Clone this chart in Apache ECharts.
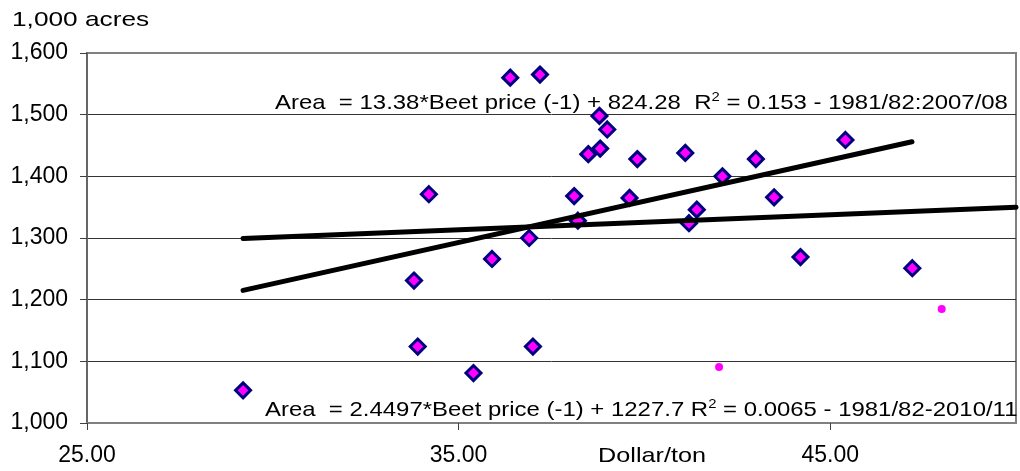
<!DOCTYPE html>
<html>
<head>
<meta charset="utf-8">
<script src="https://cdn.jsdelivr.net/npm/echarts@6/dist/echarts.min.js"></script>
<style>
html,body{margin:0;padding:0;background:#fff;}
#chart{width:1020px;height:471px;}
</style>
</head>
<body>
<div id="chart"></div>
<script>
// Beet price (-1), $/ton  vs  sugarbeet area, 1,000 acres
const priceX = [29.2, 33.8, 33.9, 34.2, 35.4, 35.9, 36.39, 36.9, 37.0, 37.19, 38.11, 38.21, 38.49, 38.81, 38.79, 39.0, 39.81, 39.6, 41.1, 41.2, 41.41, 42.1, 43.0, 43.49, 44.2, 45.41, 47.21];
const areaY  = [1053, 1231, 1124, 1371, 1081, 1266, 1560, 1300, 1124, 1565, 1368, 1328, 1436, 1445, 1498, 1476, 1428, 1365, 1438, 1324, 1346, 1400, 1428, 1366, 1269, 1459, 1251];
const recentX = [42.01, 48.0];
const recentY = [1091, 1185];
const trend1X = [29.2, 47.2];
const trend1Y = [1215, 1456];
const trend2X = [29.2, 50];
const trend2Y = [1299, 1350];
const xTicks = [25, 35, 45];
const yTicks = [1000, 1100, 1200, 1300, 1400, 1500, 1600];
const eq1 = 'Area  = 13.38*Beet price (-1) + 824.28  R{sup|2} = 0.153 - 1981/82:2007/08';
const eq2 = 'Area  = 2.4497*Beet price (-1) + 1227.7 R{sup|2} = 0.0065 - 1981/82-2010/11';
const yTitle = '1,000 acres';
const xTitle = 'Dollar/ton';

const zip = (a, b) => a.map((v, i) => [v, b[i]]);
const FONT = '"Liberation Sans", Arial, sans-serif';

const chart = echarts.init(document.getElementById('chart'));
const eqStyle = (text) => ({
  text: text,
  font: '21px ' + FONT,
  fill: '#000',
  lineHeight: 24,
  verticalAlign: 'middle',
  align: 'left',
  rich: {
    sup: { fontSize: 13, lineHeight: 13, verticalAlign: 'top', fontFamily: FONT, color: '#000' }
  }
});

chart.setOption({
  animation: false,
  backgroundColor: '#fff',
  grid: {
    left: 87, right: 4, top: 53, bottom: 48,
    containLabel: false, outerBoundsMode: 'none',
    show: true, borderColor: '#808080', borderWidth: 2
  },
  xAxis: {
    type: 'value', min: xTicks[0], max: 50, interval: 10,
    axisLine: { show: true, lineStyle: { color: '#808080', width: 2 } },
    axisTick: { show: true, length: 7, lineStyle: { color: '#404040', width: 1 } },
    axisLabel: {
      margin: 21, fontSize: 23, fontFamily: FONT, color: '#000',
      formatter: v => v.toFixed(2),
      showMaxLabel: false
    },
    splitLine: { show: false }
  },
  yAxis: {
    type: 'value', min: yTicks[0], max: yTicks[yTicks.length - 1], interval: 100,
    axisLine: { show: true, lineStyle: { color: '#666', width: 2 } },
    axisTick: { show: true, length: 7, lineStyle: { color: '#404040', width: 1 } },
    axisLabel: {
      margin: 19, fontSize: 23, fontFamily: FONT, color: '#000',
      formatter: v => v.toLocaleString('en-US')
    },
    splitLine: { show: true, showMinLine: false, showMaxLine: false, lineStyle: { color: '#333', width: 1 } }
  },
  series: [
    {
      type: 'scatter', data: zip(priceX, areaY),
      symbol: 'diamond', symbolSize: 15, z: 2,
      itemStyle: { color: '#FF00FF', borderColor: '#000080', borderWidth: 3, opacity: 1 }
    },
    {
      type: 'scatter', data: zip(recentX, recentY),
      symbol: 'circle', symbolSize: 8, z: 2,
      itemStyle: { color: '#FF00FF', opacity: 1 }
    },
    {
      type: 'line', data: zip(trend1X, trend1Y), showSymbol: false, symbol: 'none', z: 3,
      lineStyle: { color: '#000', width: 5, cap: 'round' }
    },
    {
      type: 'line', data: zip(trend2X, trend2Y), showSymbol: false, symbol: 'none', z: 3,
      lineStyle: { color: '#000', width: 5, cap: 'round' }
    }
  ],
  graphic: [
    { type: 'text', x: 12, y: 20, style: { text: yTitle, font: '21px ' + FONT, fill: '#000', verticalAlign: 'middle', align: 'left' }, scaleX: 1.25, originX: 0 },
    { type: 'text', x: 652, y: 456, style: { text: xTitle, font: '21px ' + FONT, fill: '#000', verticalAlign: 'middle', align: 'center' }, scaleX: 1.2, originX: 0 },
    { type: 'text', x: 275, y: 103, style: eqStyle(eq1), scaleX: 1.14, originX: 0, z: 10 },
    { type: 'text', x: 265, y: 410, style: eqStyle(eq2), scaleX: 1.14, originX: 0, z: 10 }
  ]
});
</script>
</body>
</html>
